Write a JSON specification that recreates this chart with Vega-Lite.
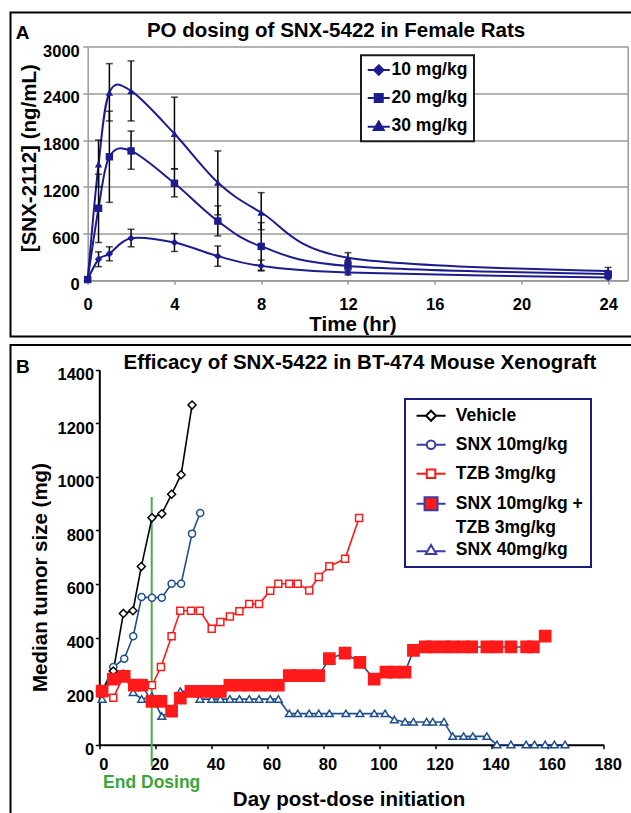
{
"$schema": "https://vega.github.io/schema/vega-lite/v6.json",
"padding": {"left": 9.5, "top": 11.5, "right": 0, "bottom": 0},
"spacing": 6.5,
"config": {
  "font": "Liberation Sans",
  "view": {"stroke": "#000000", "strokeWidth": 2},
  "legend": {"labelFont": "Liberation Sans", "strokeWidth": 2},
  "axis": {"labelFont": "Liberation Sans", "titleFont": "Liberation Sans"}
},
"resolve": {"scale": {"shape": "independent", "stroke": "independent", "fill": "independent", "color": "independent"}},
"datasets": {
  "pk": [
    {"dose": "10 mg/kg", "t": 0, "v": 10, "lo": null, "hi": null},
    {"dose": "10 mg/kg", "t": 0.5, "v": 270, "lo": 175, "hi": 365},
    {"dose": "10 mg/kg", "t": 1, "v": 340, "lo": 250, "hi": 430},
    {"dose": "10 mg/kg", "t": 2, "v": 540, "lo": 430, "hi": 655},
    {"dose": "10 mg/kg", "t": 4, "v": 485, "lo": 370, "hi": 600},
    {"dose": "10 mg/kg", "t": 6, "v": 310, "lo": 180, "hi": 440},
    {"dose": "10 mg/kg", "t": 8, "v": 185, "lo": 120, "hi": 260},
    {"dose": "10 mg/kg", "t": 12, "v": 100, "lo": 70, "hi": 130},
    {"dose": "10 mg/kg", "t": 24, "v": 35, "lo": 20, "hi": 55},
    {"dose": "20 mg/kg", "t": 0, "v": 10, "lo": null, "hi": null},
    {"dose": "20 mg/kg", "t": 0.5, "v": 925, "lo": 485, "hi": 1360},
    {"dose": "20 mg/kg", "t": 1, "v": 1585, "lo": 1000, "hi": 2170},
    {"dose": "20 mg/kg", "t": 2, "v": 1660, "lo": 1425, "hi": 1915},
    {"dose": "20 mg/kg", "t": 4, "v": 1245, "lo": 1070, "hi": 1430},
    {"dose": "20 mg/kg", "t": 6, "v": 760, "lo": 570, "hi": 955},
    {"dose": "20 mg/kg", "t": 8, "v": 435, "lo": 130, "hi": 740},
    {"dose": "20 mg/kg", "t": 12, "v": 185, "lo": 150, "hi": 230},
    {"dose": "20 mg/kg", "t": 24, "v": 80, "lo": 50, "hi": 110},
    {"dose": "30 mg/kg", "t": 0, "v": 10, "lo": null, "hi": null},
    {"dose": "30 mg/kg", "t": 0.5, "v": 1490, "lo": 1200, "hi": 1800},
    {"dose": "30 mg/kg", "t": 1, "v": 2410, "lo": 2045, "hi": 2780},
    {"dose": "30 mg/kg", "t": 2, "v": 2430, "lo": 2045, "hi": 2815},
    {"dose": "30 mg/kg", "t": 4, "v": 1880, "lo": 1430, "hi": 2350},
    {"dose": "30 mg/kg", "t": 6, "v": 1255, "lo": 840, "hi": 1660},
    {"dose": "30 mg/kg", "t": 8, "v": 870, "lo": 650, "hi": 1125},
    {"dose": "30 mg/kg", "t": 12, "v": 290, "lo": 240, "hi": 355},
    {"dose": "30 mg/kg", "t": 24, "v": 120, "lo": 80, "hi": 165}
  ],
  "tumor": [
    {"series": "SNX 40mg/kg", "day": 1, "mg": 170},
    {"series": "SNX 40mg/kg", "day": 5, "mg": 270},
    {"series": "SNX 40mg/kg", "day": 8.6, "mg": 265},
    {"series": "SNX 40mg/kg", "day": 12.1, "mg": 195},
    {"series": "SNX 40mg/kg", "day": 15.1, "mg": 170},
    {"series": "SNX 40mg/kg", "day": 18.8, "mg": 180},
    {"series": "SNX 40mg/kg", "day": 22.3, "mg": 106},
    {"series": "SNX 40mg/kg", "day": 25.8, "mg": 125},
    {"series": "SNX 40mg/kg", "day": 28.9, "mg": 199},
    {"series": "SNX 40mg/kg", "day": 32.7, "mg": 199},
    {"series": "SNX 40mg/kg", "day": 35.9, "mg": 170},
    {"series": "SNX 40mg/kg", "day": 40.1, "mg": 170},
    {"series": "SNX 40mg/kg", "day": 43.2, "mg": 170},
    {"series": "SNX 40mg/kg", "day": 46.6, "mg": 170},
    {"series": "SNX 40mg/kg", "day": 50, "mg": 170},
    {"series": "SNX 40mg/kg", "day": 53.5, "mg": 170},
    {"series": "SNX 40mg/kg", "day": 57, "mg": 170},
    {"series": "SNX 40mg/kg", "day": 61, "mg": 170},
    {"series": "SNX 40mg/kg", "day": 63.9, "mg": 170},
    {"series": "SNX 40mg/kg", "day": 67.8, "mg": 116},
    {"series": "SNX 40mg/kg", "day": 70.8, "mg": 116},
    {"series": "SNX 40mg/kg", "day": 74.9, "mg": 116},
    {"series": "SNX 40mg/kg", "day": 78.3, "mg": 116},
    {"series": "SNX 40mg/kg", "day": 82.1, "mg": 116},
    {"series": "SNX 40mg/kg", "day": 88, "mg": 116},
    {"series": "SNX 40mg/kg", "day": 93, "mg": 116},
    {"series": "SNX 40mg/kg", "day": 98.1, "mg": 116},
    {"series": "SNX 40mg/kg", "day": 102, "mg": 116},
    {"series": "SNX 40mg/kg", "day": 105.3, "mg": 93},
    {"series": "SNX 40mg/kg", "day": 109.1, "mg": 85},
    {"series": "SNX 40mg/kg", "day": 112.1, "mg": 85},
    {"series": "SNX 40mg/kg", "day": 116.8, "mg": 85},
    {"series": "SNX 40mg/kg", "day": 119, "mg": 85},
    {"series": "SNX 40mg/kg", "day": 123, "mg": 85},
    {"series": "SNX 40mg/kg", "day": 126.1, "mg": 31},
    {"series": "SNX 40mg/kg", "day": 130, "mg": 31},
    {"series": "SNX 40mg/kg", "day": 133.3, "mg": 31},
    {"series": "SNX 40mg/kg", "day": 138.3, "mg": 31},
    {"series": "SNX 40mg/kg", "day": 141.9, "mg": 0},
    {"series": "SNX 40mg/kg", "day": 146.9, "mg": 0},
    {"series": "SNX 40mg/kg", "day": 152.3, "mg": 0},
    {"series": "SNX 40mg/kg", "day": 155.3, "mg": 0},
    {"series": "SNX 40mg/kg", "day": 159.1, "mg": 0},
    {"series": "SNX 40mg/kg", "day": 162.4, "mg": 0},
    {"series": "SNX 40mg/kg", "day": 166.2, "mg": 0},
    {"series": "TZB 3mg/kg", "day": 1, "mg": 200},
    {"series": "TZB 3mg/kg", "day": 5, "mg": 175},
    {"series": "TZB 3mg/kg", "day": 8.6, "mg": 255},
    {"series": "TZB 3mg/kg", "day": 12.1, "mg": 230},
    {"series": "TZB 3mg/kg", "day": 15.1, "mg": 230},
    {"series": "TZB 3mg/kg", "day": 18.8, "mg": 222},
    {"series": "TZB 3mg/kg", "day": 22, "mg": 290},
    {"series": "TZB 3mg/kg", "day": 25.8, "mg": 405},
    {"series": "TZB 3mg/kg", "day": 28.9, "mg": 500},
    {"series": "TZB 3mg/kg", "day": 32.7, "mg": 500},
    {"series": "TZB 3mg/kg", "day": 35.9, "mg": 500},
    {"series": "TZB 3mg/kg", "day": 40.1, "mg": 433},
    {"series": "TZB 3mg/kg", "day": 43.2, "mg": 458},
    {"series": "TZB 3mg/kg", "day": 46.6, "mg": 479},
    {"series": "TZB 3mg/kg", "day": 50, "mg": 498},
    {"series": "TZB 3mg/kg", "day": 53.5, "mg": 525},
    {"series": "TZB 3mg/kg", "day": 57, "mg": 525},
    {"series": "TZB 3mg/kg", "day": 61, "mg": 575},
    {"series": "TZB 3mg/kg", "day": 63.9, "mg": 601},
    {"series": "TZB 3mg/kg", "day": 67.8, "mg": 601},
    {"series": "TZB 3mg/kg", "day": 70.8, "mg": 601},
    {"series": "TZB 3mg/kg", "day": 74.9, "mg": 576},
    {"series": "TZB 3mg/kg", "day": 78.3, "mg": 626},
    {"series": "TZB 3mg/kg", "day": 82.1, "mg": 666},
    {"series": "TZB 3mg/kg", "day": 87.7, "mg": 694},
    {"series": "TZB 3mg/kg", "day": 92.7, "mg": 846},
    {"series": "SNX 10mg/kg", "day": 1, "mg": 200},
    {"series": "SNX 10mg/kg", "day": 5, "mg": 290},
    {"series": "SNX 10mg/kg", "day": 8.9, "mg": 321},
    {"series": "SNX 10mg/kg", "day": 12.1, "mg": 405},
    {"series": "SNX 10mg/kg", "day": 15.1, "mg": 551},
    {"series": "SNX 10mg/kg", "day": 18.8, "mg": 549},
    {"series": "SNX 10mg/kg", "day": 22.3, "mg": 549},
    {"series": "SNX 10mg/kg", "day": 25.8, "mg": 601},
    {"series": "SNX 10mg/kg", "day": 29.2, "mg": 601},
    {"series": "SNX 10mg/kg", "day": 33.1, "mg": 788},
    {"series": "SNX 10mg/kg", "day": 36, "mg": 865},
    {"series": "Vehicle", "day": 1, "mg": 200},
    {"series": "Vehicle", "day": 5, "mg": 275},
    {"series": "Vehicle", "day": 8.6, "mg": 490},
    {"series": "Vehicle", "day": 12, "mg": 500},
    {"series": "Vehicle", "day": 15, "mg": 665},
    {"series": "Vehicle", "day": 18.8, "mg": 847},
    {"series": "Vehicle", "day": 22.3, "mg": 862},
    {"series": "Vehicle", "day": 25.8, "mg": 935},
    {"series": "Vehicle", "day": 29.2, "mg": 1008},
    {"series": "Vehicle", "day": 33.1, "mg": 1268},
    {"series": "SNX 10mg/kg + TZB 3mg/kg", "day": 1, "mg": 200},
    {"series": "SNX 10mg/kg + TZB 3mg/kg", "day": 5, "mg": 245},
    {"series": "SNX 10mg/kg + TZB 3mg/kg", "day": 8.9, "mg": 255},
    {"series": "SNX 10mg/kg + TZB 3mg/kg", "day": 12.5, "mg": 222},
    {"series": "SNX 10mg/kg + TZB 3mg/kg", "day": 15.1, "mg": 222},
    {"series": "SNX 10mg/kg + TZB 3mg/kg", "day": 18.8, "mg": 162},
    {"series": "SNX 10mg/kg + TZB 3mg/kg", "day": 22, "mg": 162},
    {"series": "SNX 10mg/kg + TZB 3mg/kg", "day": 25.8, "mg": 125},
    {"series": "SNX 10mg/kg + TZB 3mg/kg", "day": 28.9, "mg": 174},
    {"series": "SNX 10mg/kg + TZB 3mg/kg", "day": 32.7, "mg": 199},
    {"series": "SNX 10mg/kg + TZB 3mg/kg", "day": 35.9, "mg": 199},
    {"series": "SNX 10mg/kg + TZB 3mg/kg", "day": 40.1, "mg": 199},
    {"series": "SNX 10mg/kg + TZB 3mg/kg", "day": 43.2, "mg": 199},
    {"series": "SNX 10mg/kg + TZB 3mg/kg", "day": 46.6, "mg": 222},
    {"series": "SNX 10mg/kg + TZB 3mg/kg", "day": 50, "mg": 222},
    {"series": "SNX 10mg/kg + TZB 3mg/kg", "day": 53.5, "mg": 222},
    {"series": "SNX 10mg/kg + TZB 3mg/kg", "day": 57, "mg": 222},
    {"series": "SNX 10mg/kg + TZB 3mg/kg", "day": 61, "mg": 222},
    {"series": "SNX 10mg/kg + TZB 3mg/kg", "day": 63.9, "mg": 222},
    {"series": "SNX 10mg/kg + TZB 3mg/kg", "day": 67.8, "mg": 258},
    {"series": "SNX 10mg/kg + TZB 3mg/kg", "day": 70.8, "mg": 258},
    {"series": "SNX 10mg/kg + TZB 3mg/kg", "day": 74.9, "mg": 258},
    {"series": "SNX 10mg/kg + TZB 3mg/kg", "day": 78.3, "mg": 258},
    {"series": "SNX 10mg/kg + TZB 3mg/kg", "day": 82.1, "mg": 321},
    {"series": "SNX 10mg/kg + TZB 3mg/kg", "day": 87.7, "mg": 342},
    {"series": "SNX 10mg/kg + TZB 3mg/kg", "day": 93, "mg": 307},
    {"series": "SNX 10mg/kg + TZB 3mg/kg", "day": 98.1, "mg": 245},
    {"series": "SNX 10mg/kg + TZB 3mg/kg", "day": 102.3, "mg": 271},
    {"series": "SNX 10mg/kg + TZB 3mg/kg", "day": 105.3, "mg": 271},
    {"series": "SNX 10mg/kg + TZB 3mg/kg", "day": 109.1, "mg": 271},
    {"series": "SNX 10mg/kg + TZB 3mg/kg", "day": 112.1, "mg": 352},
    {"series": "SNX 10mg/kg + TZB 3mg/kg", "day": 116.3, "mg": 365},
    {"series": "SNX 10mg/kg + TZB 3mg/kg", "day": 119, "mg": 365},
    {"series": "SNX 10mg/kg + TZB 3mg/kg", "day": 123.1, "mg": 365},
    {"series": "SNX 10mg/kg + TZB 3mg/kg", "day": 126.1, "mg": 365},
    {"series": "SNX 10mg/kg + TZB 3mg/kg", "day": 130, "mg": 365},
    {"series": "SNX 10mg/kg + TZB 3mg/kg", "day": 132.9, "mg": 365},
    {"series": "SNX 10mg/kg + TZB 3mg/kg", "day": 138.3, "mg": 365},
    {"series": "SNX 10mg/kg + TZB 3mg/kg", "day": 141.9, "mg": 365},
    {"series": "SNX 10mg/kg + TZB 3mg/kg", "day": 146.9, "mg": 365},
    {"series": "SNX 10mg/kg + TZB 3mg/kg", "day": 152.5, "mg": 365},
    {"series": "SNX 10mg/kg + TZB 3mg/kg", "day": 154.9, "mg": 365},
    {"series": "SNX 10mg/kg + TZB 3mg/kg", "day": 159.1, "mg": 405}
  ]
},
"vconcat": [
  {
    "width": 625, "height": 324,
    "data": {"name": "pk"},
    "resolve": {"scale": {"shape": "independent", "stroke": "independent", "fill": "independent"}, "axis": {"y": "independent"}},
    "layer": [
      {
        "mark": {"type": "line", "interpolate": "cardinal", "strokeWidth": 2, "color": "#1c1c8f"},
        "encoding": {
          "x": {"field": "t", "type": "quantitative", "scale": {"domain": [0, 24.9], "range": [77.2, 617.2]},
                "axis": {"orient": "bottom", "offset": -56.2, "values": [0, 4, 8, 12, 16, 20, 24], "format": "d", "grid": false, "domainColor": "#9a9a9a", "domainWidth": 1.5, "tickColor": "#9a9a9a", "tickWidth": 1.5, "tickSize": 4, "labelFontSize": 16.5, "labelFontWeight": "bold", "labelColor": "#000000", "labelBaseline": "middle", "labelPadding": 20.5, "labelFlush": false, "labelOverlap": false, "title": "Time (hr)", "titleFontSize": 20.5, "titleFontWeight": "bold", "titleColor": "#000000", "titleBaseline": "middle", "titleX": 342, "titleY": 44.5}},
          "y": {"field": "v", "type": "quantitative", "scale": {"domain": [0, 3000], "range": [267.8, 34]},
                "axis": {"orient": "left", "offset": -77.2, "values": [0, 600, 1200, 1800, 2400, 3000], "format": "d", "grid": true, "gridColor": "#9a9a9a", "gridWidth": 1.5, "domainColor": "#9a9a9a", "domainWidth": 1.5, "tickColor": "#9a9a9a", "tickWidth": 1.5, "tickSize": 5, "labelFontSize": 16.5, "labelFontWeight": "bold", "labelColor": "#000000", "labelPadding": 3.4, "labelOffset": 4.5, "labelFlush": false, "labelOverlap": false, "title": "[SNX-2112] (ng/mL)", "titleFontSize": 20.5, "titleFontWeight": "bold", "titleColor": "#000000", "titleAngle": -90, "titleBaseline": "middle", "titleAlign": "center", "titleX": -58.4, "titleY": 145.2}},
          "detail": {"field": "dose", "type": "nominal"}
        }
      },
      {
        "transform": [{"filter": "datum.lo != null"}],
        "mark": {"type": "errorbar", "ticks": true, "size": 7, "thickness": 1.5, "color": "#000000"},
        "encoding": {
          "x": {"field": "t", "type": "quantitative", "scale": {"domain": [0, 24.9], "range": [77.2, 617.2]}},
          "y": {"field": "lo", "type": "quantitative", "scale": {"domain": [0, 3000], "range": [267.8, 34]},
                "axis": {"orient": "right", "offset": -7.8, "grid": false, "ticks": false, "labels": false, "domainColor": "#9a9a9a", "domainWidth": 1.5, "title": null}},
          "y2": {"field": "hi"}
        }
      },
      {
        "mark": {"type": "point", "filled": true, "color": "#1c1c8f", "size": 55, "opacity": 1},
        "encoding": {
          "x": {"field": "t", "type": "quantitative", "scale": {"domain": [0, 24.9], "range": [77.2, 617.2]}},
          "y": {"field": "v", "type": "quantitative", "scale": {"domain": [0, 3000], "range": [267.8, 34]}, "axis": null},
          "shape": {"field": "dose", "type": "nominal", "scale": {"domain": ["10 mg/kg", "20 mg/kg", "30 mg/kg"], "range": ["diamond", "square", "triangle-up"]}, "legend": null}
        }
      },
      {
        "transform": [{"filter": "false"}],
        "mark": {"type": "point", "size": 100, "strokeWidth": 2, "opacity": 1},
        "encoding": {
          "shape": {"field": "dose", "type": "nominal",
                    "scale": {"domain": ["10 mg/kg", "20 mg/kg", "30 mg/kg"], "range": ["M-2.2,0H2.2M0,-0.95L0.95,0L0,0.95L-0.95,0Z", "M-2.2,0H2.2M-0.8,-0.8H0.8V0.8H-0.8Z", "M-2.2,0.15H2.2M0,-0.9L1,0.8L-1,0.8Z"]},
                    "legend": {"orient": "none", "legendX": 350.5, "legendY": 42.8, "title": null, "labelFontSize": 17.5, "labelFontWeight": "bold", "labelColor": "#000000", "fillColor": "#ffffff", "strokeColor": "#1a1a1a", "padding": 6, "rowPadding": 9, "symbolOffset": 3, "labelOffset": 4, "symbolSize": 100, "symbolStrokeWidth": 2}},
          "stroke": {"field": "dose", "type": "nominal", "scale": {"domain": ["10 mg/kg", "20 mg/kg", "30 mg/kg"], "range": ["#1c1c8f", "#1c1c8f", "#1c1c8f"]}},
          "fill": {"field": "dose", "type": "nominal", "scale": {"domain": ["10 mg/kg", "20 mg/kg", "30 mg/kg"], "range": ["#1c1c8f", "#1c1c8f", "#1c1c8f"]}}
        }
      },
      {
        "data": {"values": [{"panel": "A"}]},
        "mark": {"type": "text", "fontSize": 19, "fontWeight": "bold", "baseline": "middle", "align": "center", "color": "#000000"},
        "encoding": {
          "x": {"datum": -3.0, "type": "quantitative", "scale": {"domain": [0, 24.9], "range": [77.2, 617.2]}},
          "y": {"datum": 3177, "type": "quantitative", "scale": {"domain": [0, 3000], "range": [267.8, 34]}, "axis": null},
          "text": {"field": "panel"}
        }
      },
      {
        "data": {"values": [{"heading": "PO dosing of SNX-5422 in Female Rats"}]},
        "mark": {"type": "text", "fontSize": 20.5, "fontWeight": "bold", "baseline": "middle", "align": "center", "color": "#000000"},
        "encoding": {
          "x": {"datum": 11.45, "type": "quantitative", "scale": {"domain": [0, 24.9], "range": [77.2, 617.2]}},
          "y": {"datum": 3200, "type": "quantitative", "scale": {"domain": [0, 3000], "range": [267.8, 34]}, "axis": null},
          "text": {"field": "heading"}
        }
      }
    ]
  },
  {
    "width": 625, "height": 480,
    "data": {"name": "tumor"},
    "resolve": {"scale": {"shape": "independent", "stroke": "independent", "fill": "independent"}},
    "layer": [
      {
        "data": {"values": [{"event": "End Dosing", "day": 18.7}]},
        "mark": {"type": "rule", "color": "#45b045", "strokeWidth": 2},
        "encoding": {
          "x": {"field": "day", "type": "quantitative", "scale": {"domain": [0, 180], "range": [88.8, 593.2]}},
          "y": {"datum": -80, "type": "quantitative", "scale": {"domain": [0, 1400], "range": [399.7, 24.7]}},
          "y2": {"datum": 925}
        }
      },
      {
        "mark": {"type": "line", "strokeWidth": 1.6},
        "encoding": {
          "x": {"field": "day", "type": "quantitative", "scale": {"domain": [0, 180], "range": [88.8, 593.2]},
                "axis": {"orient": "bottom", "offset": -80.3, "values": [0, 20, 40, 60, 80, 100, 120, 140, 160, 180], "format": "d", "grid": false, "domainColor": "#000000", "domainWidth": 2, "tickColor": "#000000", "tickWidth": 1.5, "tickSize": 4, "labelFontSize": 16.5, "labelFontWeight": "bold", "labelColor": "#000000", "labelBaseline": "middle", "labelPadding": 16, "labelOffset": 4, "labelFlush": false, "labelOverlap": false, "title": "Day post-dose initiation", "titleFontSize": 20.5, "titleFontWeight": "bold", "titleColor": "#000000", "titleBaseline": "middle", "titleX": 338, "titleY": 55}},
          "y": {"field": "mg", "type": "quantitative", "scale": {"domain": [0, 1400], "range": [399.7, 24.7]},
                "axis": {"orient": "left", "offset": -88.8, "values": [0, 200, 400, 600, 800, 1000, 1200, 1400], "format": "d", "grid": false, "domainColor": "#000000", "domainWidth": 2, "tickColor": "#000000", "tickWidth": 1.5, "tickSize": 4, "labelFontSize": 16.5, "labelFontWeight": "bold", "labelColor": "#000000", "labelPadding": 1.6, "labelOffset": 5, "labelFlush": false, "labelOverlap": false, "title": "Median tumor size (mg)", "titleFontSize": 20.5, "titleFontWeight": "bold", "titleColor": "#000000", "titleAngle": -90, "titleBaseline": "middle", "titleAlign": "center", "titleX": -59, "titleY": 232}},
          "color": {"field": "series", "type": "nominal", "scale": {"domain": ["Vehicle", "SNX 10mg/kg", "TZB 3mg/kg", "SNX 10mg/kg + TZB 3mg/kg", "SNX 40mg/kg"], "range": ["#000000", "#1f4e8c", "#ff1a1a", "#1f4e8c", "#1f4e8c"]}, "legend": null}
        }
      },
      {
        "mark": {"type": "point", "size": 49, "strokeWidth": 1.5, "opacity": 1},
        "encoding": {
          "x": {"field": "day", "type": "quantitative", "scale": {"domain": [0, 180], "range": [88.8, 593.2]}},
          "y": {"field": "mg", "type": "quantitative", "scale": {"domain": [0, 1400], "range": [399.7, 24.7]}},
          "shape": {"field": "series", "type": "nominal", "scale": {"domain": ["Vehicle", "SNX 10mg/kg", "TZB 3mg/kg", "SNX 10mg/kg + TZB 3mg/kg", "SNX 40mg/kg"], "range": ["M0,-1.15L1.15,0L0,1.15L-1.15,0Z", "circle", "square", "M-1.6,-1.6H1.6V1.6H-1.6Z", "M0,-1L1.1,0.85L-1.1,0.85Z"]}, "legend": null},
          "stroke": {"field": "series", "type": "nominal", "scale": {"domain": ["Vehicle", "SNX 10mg/kg", "TZB 3mg/kg", "SNX 10mg/kg + TZB 3mg/kg", "SNX 40mg/kg"], "range": ["#000000", "#1f4e8c", "#ff1a1a", "#ff1a1a", "#1f4e8c"]}, "legend": null},
          "fill": {"field": "series", "type": "nominal", "scale": {"domain": ["Vehicle", "SNX 10mg/kg", "TZB 3mg/kg", "SNX 10mg/kg + TZB 3mg/kg", "SNX 40mg/kg"], "range": ["#ffffff", "#ffffff", "#ffffff", "#ff1a1a", "#ffffff"]}, "legend": null}
        }
      },
      {
        "transform": [{"filter": "false"}],
        "mark": {"type": "point", "size": 100, "strokeWidth": 2, "opacity": 1},
        "encoding": {
          "shape": {"field": "series", "type": "nominal",
                    "scale": {"domain": ["Vehicle", "SNX 10mg/kg", "TZB 3mg/kg", "SNX 10mg/kg +", "TZB 3mg/kg ", "SNX 40mg/kg"],
                              "range": ["M-2.9,0H-1M1,0H2.9M0,-1L1,0L0,1L-1,0ZM0,2.3H0", "M-2.9,0H-0.85M0.85,0H2.9M-0.85,0A0.85,0.85 0 1,0 0.85,0A0.85,0.85 0 1,0 -0.85,0ZM0,2.3H0", "M-2.9,0H-0.85M0.85,0H2.9M-0.85,-0.85H0.85V0.85H-0.85ZM0,2.3H0", "M-2.9,0H-1.3M1.3,0H2.9M-1.3,-1.3H1.3V1.3H-1.3Z", "M0,0", "M-2.9,0.3H-0.65M0.65,0.3H2.9M0,-0.95L1.05,0.85L-1.05,0.85Z"]},
                    "legend": {"orient": "none", "legendX": 394.5, "legendY": 54, "title": null, "labelFontSize": 17.5, "labelFontWeight": "bold", "labelColor": "#000000", "fillColor": "#ffffff", "strokeColor": "#1c1c80", "padding": 8, "rowPadding": 3, "symbolOffset": 9.3, "labelOffset": 16, "symbolSize": 100, "symbolStrokeWidth": 2, "labelLimit": 300}},
          "stroke": {"field": "series", "type": "nominal", "scale": {"domain": ["Vehicle", "SNX 10mg/kg", "TZB 3mg/kg", "SNX 10mg/kg +", "TZB 3mg/kg ", "SNX 40mg/kg"], "range": ["#000000", "#3b3ba5", "#ff1a1a", "#3b3ba5", "transparent", "#3b3ba5"]}},
          "fill": {"field": "series", "type": "nominal", "scale": {"domain": ["Vehicle", "SNX 10mg/kg", "TZB 3mg/kg", "SNX 10mg/kg +", "TZB 3mg/kg ", "SNX 40mg/kg"], "range": ["#ffffff", "#ffffff", "#ffffff", "#ff1a1a", "transparent", "#ffffff"]}}
        }
      },
      {
        "data": {"values": [{"event": "End Dosing", "day": 18.7}]},
        "mark": {"type": "text", "fontSize": 17.5, "fontWeight": "bold", "baseline": "middle", "align": "center", "color": "#3aa63a"},
        "encoding": {
          "x": {"field": "day", "type": "quantitative", "scale": {"domain": [0, 180], "range": [88.8, 593.2]}},
          "y": {"datum": -143, "type": "quantitative", "scale": {"domain": [0, 1400], "range": [399.7, 24.7]}},
          "text": {"field": "event"}
        }
      },
      {
        "data": {"values": [{"panel": "B"}]},
        "mark": {"type": "text", "fontSize": 19, "fontWeight": "bold", "baseline": "middle", "align": "center", "color": "#000000"},
        "encoding": {
          "x": {"datum": -27.3, "type": "quantitative", "scale": {"domain": [0, 180], "range": [88.8, 593.2]}},
          "y": {"datum": 1409, "type": "quantitative", "scale": {"domain": [0, 1400], "range": [399.7, 24.7]}},
          "text": {"field": "panel"}
        }
      },
      {
        "data": {"values": [{"heading": "Efficacy of SNX-5422 in BT-474 Mouse Xenograft"}]},
        "mark": {"type": "text", "fontSize": 20.5, "fontWeight": "bold", "baseline": "middle", "align": "center", "color": "#000000"},
        "encoding": {
          "x": {"datum": 93, "type": "quantitative", "scale": {"domain": [0, 180], "range": [88.8, 593.2]}},
          "y": {"datum": 1425, "type": "quantitative", "scale": {"domain": [0, 1400], "range": [399.7, 24.7]}},
          "text": {"field": "heading"}
        }
      }
    ]
  }
]
}
